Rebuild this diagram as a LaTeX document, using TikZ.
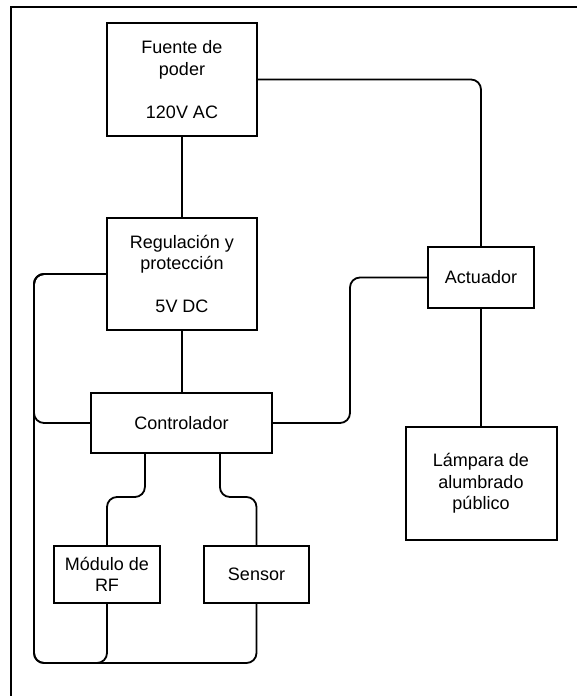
\documentclass[tikz,border=0pt]{standalone}
\usepackage{fontspec}
\setmainfont{Liberation Sans}
\usetikzlibrary{calc}

\tikzset{
  bloque/.style={draw, line width=2pt, align=center, inner sep=0pt,
    font=\fontsize{18}{21.5}\selectfont},
  linea/.style={line width=1.8pt, rounded corners=10pt}
}

\begin{document}
\begin{tikzpicture}[x=1pt, y=-1pt]
    \useasboundingbox (0,0) rectangle (577,696);
    \draw[line width=2pt] (11,696) -- (11,7) -- (577,7);

    \node[bloque, minimum width=150, minimum height=113] (fuente) at (182,79.5)
      {Fuente de\\poder\\[21.5pt]120V AC};
    \node[bloque, minimum width=150, minimum height=112] (regul) at (182,274)
      {Regulación y\\protección\\[21.5pt]5V DC};
    \node[bloque, minimum width=106, minimum height=61] (actuador) at (481,277.5)
      {Actuador};
    \node[bloque, minimum width=181, minimum height=60] (ctrl) at (181.5,423)
      {Controlador};
    \node[bloque, minimum width=151, minimum height=113] (lampara) at (481,483.5)
      {Lámpara de\\alumbrado\\público};
    \node[bloque, minimum width=106, minimum height=57] (modulo) at (107,574.5)
      {Módulo de\\RF};
    \node[bloque, minimum width=105, minimum height=57] (sensor) at (256.5,574.5)
      {Sensor};

    \coordinate (izq) at (34,663);
    \coordinate (der) at (350,0);
    \coordinate (medio) at (0,497);
    \coordinate (sal1) at ($(ctrl.south west)!0.3!(ctrl.south east)$);
    \coordinate (sal2) at ($(ctrl.south west)!0.71!(ctrl.south east)$);

    \draw[linea] (fuente) -- (regul);
    \draw[linea] (fuente.east) -| (actuador.north);
    \draw[linea] (regul.south) -- (regul.south |- ctrl.north);
    \draw[linea] (actuador) -- (lampara);
    \draw[linea] (regul.west) -| (izq |- ctrl.west) -- (ctrl.west);
    \draw[linea] (regul.west) -| (izq) -| (modulo.south);
    \draw[linea] (regul.west) -| (izq) -| (sensor.south);
    \draw[linea] (ctrl.east) -| (der |- actuador.west) -- (actuador.west);
    \draw[linea] (sal1) -- (sal1 |- medio) -| (modulo.north);
    \draw[linea] (sal2) -- (sal2 |- medio) -| (sensor.north);
\end{tikzpicture}
\end{document}
